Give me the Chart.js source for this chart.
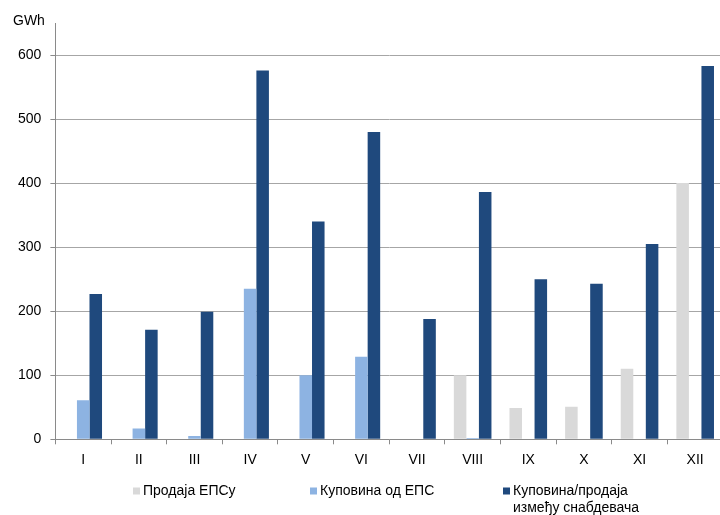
<!DOCTYPE html>
<html>
<head>
<meta charset="utf-8">
<title>GWh по месецима</title>
<script src="https://cdn.jsdelivr.net/npm/chart.js@4.4.1/dist/chart.umd.min.js"></script>
<style>
  html, body { margin: 0; padding: 0; background: #ffffff; overflow: hidden; width: 720px; height: 515px; }
  canvas { display: block; }
</style>
</head>
<body>
<canvas id="chart" width="723" height="515"></canvas>
<script>
// Months (Roman numerals)
const months = ['I', 'II', 'III', 'IV', 'V', 'VI', 'VII', 'VIII', 'IX', 'X', 'XI', 'XII'];

// Monthly volumes, GWh
const salesToEps = [0, 0, 0, 0, 0, 0, 0, 100, 49, 51, 110, 400];
const purchasesFromEps = [61, 17, 5, 235, 100, 129, 0, 2, 0, 0, 0, 0];
const betweenSuppliers = [227, 171, 199, 576, 340, 480, 188, 386, 250, 243, 305, 583];

// Series names
const seriesNames = [
  ['Продаја ЕПСу'],
  ['Куповина од ЕПС'],
  ['Куповина/продаја', 'између снабдевача']
];
const seriesColors = ['#d9d9d9', '#8db3e2', '#1f497d'];

// Y axis tick values
const yTicks = [0, 100, 200, 300, 400, 500, 600];
const yUnit = 'GWh';

const FONT = '"Liberation Sans", Arial, sans-serif';

const decorations = {
  id: 'decorations',
  afterDraw(chart) {
    const ctx = chart.ctx;
    ctx.save();
    ctx.font = '14px ' + FONT;
    ctx.fillStyle = '#000000';
    ctx.textBaseline = 'middle';
    ctx.textAlign = 'left';
    ctx.fillText(yUnit, 13, 21);

    // legend
    const items = [
      { sx: 133, tx: 143 },
      { sx: 310, tx: 320 },
      { sx: 503, tx: 513 }
    ];
    const y0 = 491;
    const lineH = 17.5;
    items.forEach((it, i) => {
      ctx.fillStyle = seriesColors[i];
      ctx.fillRect(it.sx, y0 - 3.5, 7, 7);
      ctx.fillStyle = '#000000';
      seriesNames[i].forEach((line, j) => {
        ctx.fillText(line, it.tx, y0 + j * lineH);
      });
    });
    ctx.restore();
  }
};

new Chart(document.getElementById('chart'), {
  type: 'bar',
  data: {
    labels: months,
    datasets: [
      { label: seriesNames[0].join(' '), data: salesToEps, backgroundColor: seriesColors[0] },
      { label: seriesNames[1].join(' '), data: purchasesFromEps, backgroundColor: seriesColors[1] },
      { label: seriesNames[2].join(' '), data: betweenSuppliers, backgroundColor: seriesColors[2] }
    ]
  },
  options: {
    responsive: false,
    animation: false,
    devicePixelRatio: 1,
    layout: { padding: { top: 23, right: 0, bottom: 0, left: 0 } },
    datasets: {
      bar: { categoryPercentage: 0.676, barPercentage: 1.0, borderWidth: 0 }
    },
    plugins: {
      legend: { display: false },
      tooltip: { enabled: false }
    },
    scales: {
      x: {
        offset: true,
        grid: {
          offset: true,
          drawOnChartArea: false,
          drawTicks: true,
          tickLength: 5,
          color: '#8a8a8a'
        },
        border: { color: '#8a8a8a', width: 1 },
        ticks: {
          color: '#000000',
          font: { family: FONT, size: 14 },
          padding: 7,
          maxRotation: 0,
          autoSkip: false
        },
        afterFit(scale) { scale.height = 515 - 439.3; }
      },
      y: {
        min: 0,
        max: 650,
        afterBuildTicks(scale) {
          scale.ticks = yTicks.map(v => ({ value: v }));
        },
        grid: {
          color: '#a6a6a6',
          lineWidth: 1,
          drawTicks: true,
          tickLength: 5,
          tickColor: '#8a8a8a'
        },
        border: { color: '#8a8a8a', width: 1 },
        ticks: {
          color: '#000000',
          font: { family: FONT, size: 14 },
          padding: 9
        },
        afterFit(scale) { scale.width = 55.4; }
      }
    }
  },
  plugins: [decorations]
});
</script>
</body>
</html>
